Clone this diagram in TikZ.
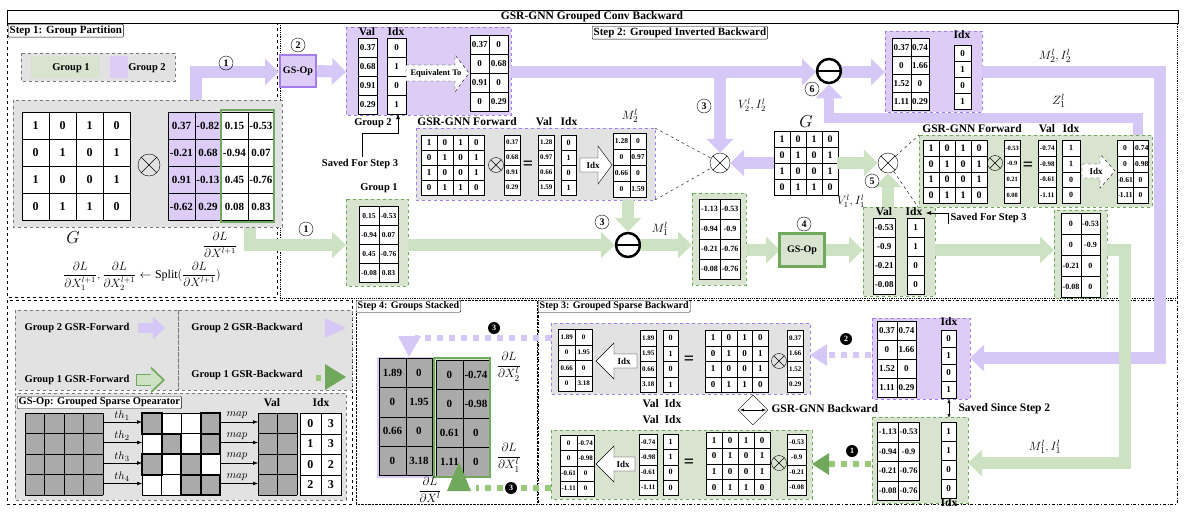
\documentclass[tikz,border=0pt]{standalone}
\usepackage{amsmath}
\usepackage{fontspec}
\setmainfont{Liberation Serif}
\usetikzlibrary{arrows.meta,shapes.geometric,calc}
\definecolor{pA}{RGB}{214,200,246}
\definecolor{pF}{RGB}{220,204,246}
\definecolor{pD}{RGB}{165,125,235}
\definecolor{gA}{RGB}{205,226,195}
\definecolor{gF}{RGB}{216,228,208}
\definecolor{gD}{RGB}{112,168,92}
\definecolor{gM}{RGB}{150,200,120}
\definecolor{gy}{RGB}{226,226,226}
\definecolor{gc}{RGB}{120,120,120}
\definecolor{gq}{RGB}{170,170,170}
\newcommand\fsz[1]{\fontsize{#1}{#1}\selectfont\bfseries}
\newcommand\tbl[7][white]{%
 \foreach \rr [count=\ii] in {#7} {\foreach \cc [count=\jj] in \rr {%
  \node[draw,fill=#1,minimum width=#4pt,minimum height=#5pt,inner sep=0,anchor=north west,font=#6]
   at ({#2+(\jj-1)*#4},{#3+(\ii-1)*#5}) {\cc};}}}
\newcommand\grd[6]{%
 \foreach \k in {0,...,#3} \draw ({#1+\k*#5},#2) -- ({#1+\k*#5},{#2+#4*#6});
 \foreach \k in {0,...,#4} \draw (#1,{#2+\k*#6}) -- ({#1+#3*#5},{#2+\k*#6});}
\newcommand\omin[3]{\node[circle,draw,line width=2.5pt,minimum size=24pt,inner sep=0] (#1) at (#2,#3) {};
 \draw[line width=2.5pt] (#1.west) -- (#1.east);}
\tikzset{
 pa/.style={line width=12pt,draw=pA,-{Triangle[length=14pt,width=26pt]}},
 ga/.style={line width=12pt,draw=gA,-{Triangle[length=14pt,width=26pt]}},
 cn/.style={circle,draw,inner sep=0.5pt,minimum size=14pt,font=\fsz{10}},
 bn/.style={circle,fill=black,text=white,minimum size=12pt,inner sep=0pt,font=\fsz{8}},
 lab/.style={draw,fill=white,rounded corners=1pt,font=\fsz{11},anchor=north west,inner sep=1.5pt},
 ot/.style={circle,draw,minimum size=20pt,inner sep=0,path picture={\draw (path picture bounding box.north west)--(path picture bounding box.south east) (path picture bounding box.north east)--(path picture bounding box.south west);}},
 ots/.style={ot,minimum size=15pt},
 txt/.style={font=\fsz{10.5}},
 hd/.style={font=\fsz{11.5}},
 sarrow/.style={draw,fill=white}
}
\begin{document}
\begin{tikzpicture}[x=1pt,y=-1pt]
\useasboundingbox (0,0) rectangle (1185,515);
% frames
\draw[thick] (7,10) rectangle (1178,23);
\node[font=\fsz{11.5}] (title) at (592,16.5) {GSR-GNN Grouped Conv Backward};
\draw[dashed,thick] (7,23) rectangle (277,297);
\draw[densely dotted,thick] (280,23) rectangle (1177,298);
\draw[dashed,thick] (7,300) rectangle (352,504);
\draw[densely dotted] (356,300) rectangle (537,504);
\draw[dash dot] (538,300) rectangle (1177,504);
\node[lab] (s1) at (8,24) {Step 1: Group Partition};
\node[lab] (s2) at (592,26) {Step 2: Grouped Inverted Backward};
\node[lab,font=\fsz{10}] (s4) at (356,300) {Step 4: Groups Stacked};
\node[lab,font=\fsz{10}] (s3) at (538,300) {Step 3: Grouped Sparse Backward};
% ---------- step 1
\fill[gy] (21,53) rectangle (175,81); \draw[dashed,thick,gc] (21,53) rectangle (175,81);
\fill[gF] (31,56) rectangle (100,78); \fill[pF] (110,56) rectangle (128,78);
\node[txt] (g1) at (71,68) {Group 1}; \node[txt] (g2) at (147,68) {Group 2};
\draw[pa] (196,100) -- (196,72) -- (279,72);
\draw[ga] (250,227) -- (250,245) -- (346,245);
\fill[gy] (13,100) rectangle (282,227); \draw[dashed,thick,gc] (13,100) rectangle (282,227);
\tbl{22}{112}{27}{27}{\fsz{12}}{{1,0,1,0},{0,1,0,1},{1,0,0,1},{0,1,1,0}}
\node[ot,minimum size=22pt] (x1) at (149,165) {};
\fill[pF] (168,112) rectangle (221,220); \fill[white] (221,112) rectangle (274,220);
\tbl[none]{168}{112}{26.5}{27}{\fsz{11}}{{0.37,-0.82,0.15,-0.53},{-0.21,0.68,-0.94,0.07},{0.91,-0.13,0.45,-0.76},{-0.62,0.29,0.08,0.83}}
\draw[gD,line width=2pt] (221,110) rectangle (274,222);
\node[font=\fontsize{16}{16}\selectfont] (Glab) at (73,238) {$G$};
\node[font=\fontsize{12}{12}\selectfont] (dl) at (220,245) {$\dfrac{\partial L}{\partial X^{l+1}}$};
\node[font=\fontsize{12}{12}\selectfont] (split) at (142,276) {$\dfrac{\partial L}{\partial X_1^{l+1}},\dfrac{\partial L}{\partial X_2^{l+1}}\leftarrow \mathrm{Split}(\dfrac{\partial L}{\partial X^{l+1}})$};
\node[cn] (c1a) at (226,63) {1};
\node[cn] (c1b) at (306,229) {1};
% ---------- step 2 top
\node[draw=pD,line width=2.5pt,fill=pF,minimum width=36pt,minimum height=32pt,inner sep=0,font=\fsz{10}] (gs2) at (298,71) {GS-Op};
\node[cn] (c2) at (298,45) {2};
\draw[pa] (gs2.east) -- (346,72);
\fill[pF] (346,27) rectangle (511,115); \draw[dashed,pD] (346,27) rectangle (511,115);
\node[hd] (vh) at (367,32) {Val}; \node[hd] (ih) at (396,32) {Idx};
\tbl{358}{38}{19}{19}{\fsz{9}}{0.37,0.68,0.91,0.29}
\tbl{387}{38}{19}{19}{\fsz{9}}{0,1,0,1}
\draw[dashed,fill=white] (406,65)--(455,65)--(455,55)--(469,73)--(455,92)--(455,81)--(406,81)--cycle;
\node[font=\fsz{8.5}] (eq) at (436,73) {Equivalent To};
\tbl{470}{35}{19}{19}{\fsz{9}}{{0.37,0},{0,0.68},{0.91,0},{0,0.29}}
\node[txt] (grp2) at (373,123) {Group 2};
\node[txt] (sv1) at (360,164) {Saved For Step 3};
\draw[-{Latex[length=5pt]}] (362,157) -- (362,133) -- (398,133) -- (398,114);
\draw[pa] (511,72) -- (816,72);
\omin{om1}{829}{71}
\draw[pa] (842,72) -- (885,72);
\node[ot] (x2) at (720,163) {};
\draw[pa] (720,72) -- (x2.north);
\node[cn] (c3a) at (704,106) {3};
\node[font=\fontsize{12}{12}\selectfont] (v2) at (752,105) {$V_2^l, I_2^l$};
\node[cn] (c6) at (812,89) {6};
\fill[pF] (885,31) rectangle (982,112); \draw[dashed,pD] (885,31) rectangle (982,112);
\tbl{892}{38}{18.5}{18}{\fsz{9}}{{0.37,0.74},{0,1.66},{1.52,0},{1.11,0.29}}
\node[hd] (ih2) at (962,35) {Idx};
\tbl{954}{45}{17}{16}{\fsz{9}}{0,1,0,1}
\node[font=\fontsize{13}{13}\selectfont] (m2) at (1055,56) {$M_2^l, I_2^l$};
\draw[pa] (982,72) -- (1160,72) -- (1160,358) -- (970,358);
\node[font=\fontsize{13}{13}\selectfont] (z1) at (1059,101) {$Z_1^l$};
\draw[pa,line width=10pt] (1138,137) -- (1138,118) -- (829,118) -- (om1.south);
% purple GSR forward
\fill[gy] (416,128) rectangle (655,200); \draw[dashed,pD,thick] (416,128) rectangle (655,200);
\node[hd] (gf1) at (467,122) {GSR-GNN Forward};
\node[hd] at (544,122) {Val}; \node[hd] at (569,122) {Idx};
\tbl{421}{135}{15.75}{15}{\fsz{9}}{{1,0,1,0},{0,1,0,1},{1,0,0,1},{0,1,1,0}}
\node[ots] (x3) at (496,165) {};
\tbl{504}{135}{16}{15}{\fsz{7}}{0.37,0.68,0.91,0.29}
\node[font=\fsz{18}] at (528,165) {=};
\tbl{538}{135}{16}{15}{\fsz{7}}{1.28,0.97,0.66,1.59}
\tbl{561}{135}{15}{15}{\fsz{8}}{0,1,0,1}
\draw[sarrow] (580,158)--(598,158)--(598,146)--(612,165)--(598,184)--(598,172)--(580,172)--cycle;
\node[font=\fsz{9}] at (593,165) {Idx};
\tbl{613}{133}{16.5}{16}{\fsz{7.5}}{{1.28,0},{0,0.97},{0.66,0},{0,1.59}}
\node[font=\fontsize{13}{13}\selectfont] (m2b) at (630,116) {$M_2^l$};
\draw[dashed] (655,128) -- (x2); \draw[dashed] (655,200) -- (x2);
% G center
\node[font=\fontsize{16}{16}\selectfont] (Gc) at (806,122) {$G$};
\tbl{774}{131}{16}{16}{\fsz{10}}{{1,0,1,0},{0,1,0,1},{1,0,0,1},{0,1,1,0}}
\draw[pa] (774,163) -- (x2.east);
\node[ot] (x4) at (888,163) {};
\draw[ga] (837,163) -- (x4.west);
% green GSR forward
\fill[gF] (919,135) rectangle (1152,207); \draw[dashed,gD,thick] (919,135) rectangle (1152,207);
\node[hd] (gf2) at (972,129) {GSR-GNN Forward};
\node[hd] at (1047,129) {Val}; \node[hd] at (1071,129) {Idx};
\tbl{923}{140}{16}{15.75}{\fsz{10}}{{1,0,1,0},{0,1,0,1},{1,0,0,1},{0,1,1,0}}
\node[ots] (x5) at (995,163) {};
\tbl{1004}{140}{16}{15.75}{\fsz{6.5}}{-0.53,-0.9,0.21,0.08}
\node[font=\fsz{18}] at (1028,166) {=};
\tbl{1038}{140}{18}{15.75}{\fsz{7}}{-0.74,-0.98,-0.61,-1.11}
\tbl{1062}{140}{18}{15.75}{\fsz{8}}{1,1,0,0}
\draw[dashed,fill=white] (1082,164)--(1100,164)--(1100,154)--(1115,171)--(1100,188)--(1100,178)--(1082,178)--cycle;
\node[font=\fsz{9}] at (1096,171) {Idx};
\tbl{1117}{140}{15.5}{15.75}{\fsz{7.5}}{{0,-0.74},{0,-0.98},{-0.61,0},{-1.11,0}}
\draw[dashed] (x4) -- (919,135); \draw[dashed] (x4) -- (918,207);
\draw[ga] (888,207) -- (x4.south);
\node[cn] (c5) at (872,181) {5};
\node[font=\fontsize{12}{12}\selectfont] (v1) at (851,201) {$V_1^l, I_1^l$};
% green lower chain
\fill[gF] (346,199) rectangle (408,286); \draw[dashed,gD,thick] (346,199) rectangle (408,286);
\node[txt] (grp1) at (379,188) {Group 1};
\tbl{359}{206}{19.5}{19}{\fsz{7.5}}{{0.15,-0.53},{-0.94,0.07},{0.45,-0.76},{-0.08,0.83}}
\omin{om2}{628}{245}
\draw[ga] (408,245) -- (om2.west);
\draw[ga] (628,200) -- (om2.north);
\node[cn] (c3b) at (602,222) {3};
\node[font=\fontsize{13}{13}\selectfont] (m1) at (660,229) {$M_1^l$};
\draw[ga] (om2.east) -- (692,245);
\fill[gF] (692,193) rectangle (746,285); \draw[dashed,gD,thick] (692,193) rectangle (746,285);
\tbl{699}{199}{20.5}{20}{\fsz{8}}{{-1.13,-0.53},{-0.94,-0.9},{-0.21,-0.76},{-0.08,-0.76}}
\draw[ga] (746,250) -- (780,250);
\node[draw=gD,line width=2.5pt,fill=gF,minimum width=45pt,minimum height=33pt,inner sep=0,font=\fsz{10}] (gs1) at (802,250) {GS-Op};
\node[cn] (c4) at (804,224) {4};
\draw[ga] (gs1.east) -- (863,250);
\fill[gF] (863,207) rectangle (935,296); \draw[dashed,gD,thick] (863,207) rectangle (935,296);
\node[hd] at (884,212) {Val}; \node[hd] (ih3) at (914,212) {Idx};
\tbl{873}{218}{22}{19}{\fsz{9}}{-0.53,-0.9,-0.21,-0.08}
\tbl{907}{218}{17}{19}{\fsz{9}}{1,1,0,0}
\node[txt,anchor=west] (sv2) at (947,218) {Saved For Step 3};
\draw[-{Latex[length=5pt]}] (948,224) -- (948,213) -- (926,213);
\draw[ga] (935,250) -- (1054,250);
\fill[gF] (1054,210) rectangle (1107,298); \draw[dashed,gD,thick] (1054,210) rectangle (1107,298);
\tbl{1061}{213}{19.5}{21}{\fsz{8}}{{0,-0.53},{0,-0.9},{-0.21,0},{-0.08,0}}
\draw[ga] (1107,250) -- (1125,250) -- (1125,463) -- (968,463);
% ---------- step 3
\fill[gy] (551,323) rectangle (810,394); \draw[dashed,pD,thick] (551,323) rectangle (810,394);
\tbl{558}{329}{17}{15.5}{\fsz{7}}{{1.89,0},{0,1.95},{0.66,0},{0,3.18}}
\draw[sarrow] (637,354)--(614,354)--(614,343)--(596,361)--(614,379)--(614,368)--(637,368)--cycle;
\node[font=\fsz{9}] at (624,361) {Idx};
\tbl{640}{330}{16}{15.5}{\fsz{7}}{1.89,1.95,0.66,3.18}
\tbl{663}{330}{15}{15.5}{\fsz{8}}{0,1,0,1}
\node[font=\fsz{18}] at (689,360) {=};
\tbl{705}{330}{15.75}{15.5}{\fsz{9}}{{1,0,1,0},{0,1,0,1},{1,0,0,1},{0,1,1,0}}
\node[ots] (x6) at (779,361) {};
\tbl{787}{330}{16}{15.5}{\fsz{7}}{0.37,1.66,1.52,0.29}
\node[hd] at (662,404) {Val\ \ Idx};
\node[hd] at (662,420) {Val\ \ Idx};
\node[diamond,draw,minimum width=30pt,minimum height=30pt,inner sep=0] (dm) at (753,410) {};
\draw[-{Latex[length=4pt]}] (753,410) -- (740,410); \draw[-{Latex[length=4pt]}] (753,410) -- (766,410);
\node[hd,anchor=west] (gb) at (768,409) {GSR-GNN Backward};
\fill[gF] (551,430) rectangle (812,499); \draw[dashed,gD,thick] (551,430) rectangle (812,499);
\tbl{560}{435}{17}{15.25}{\fsz{7}}{{0,-0.74},{0,-0.98},{-0.61,0},{-1.11,0}}
\draw[sarrow] (635,457)--(614,457)--(614,446)--(596,464)--(614,482)--(614,471)--(635,471)--cycle;
\node[font=\fsz{9}] at (623,464) {Idx};
\tbl{639}{434}{18}{15.25}{\fsz{7}}{-0.74,-0.98,-0.61,-1.11}
\tbl{663}{434}{15}{15.25}{\fsz{8}}{1,1,0,0}
\node[font=\fsz{18}] at (689,463) {=};
\tbl{706}{432}{16}{15.75}{\fsz{9}}{{1,0,1,0},{0,1,0,1},{1,0,0,1},{0,1,1,0}}
\node[ots] (x7) at (779,463) {};
\tbl{787}{434}{19}{15.25}{\fsz{7}}{-0.53,-0.9,-0.21,-0.08}
% purple saved table
\fill[pF] (872,318) rectangle (970,399); \draw[dashed,pD] (872,318) rectangle (970,399);
\tbl{877}{321}{19.5}{19}{\fsz{9}}{{0.37,0.74},{0,1.66},{1.52,0},{1.11,0.29}}
\node[hd] at (949,322) {Idx};
\tbl{941}{330}{15}{17}{\fsz{9}}{0,1,0,1}
\draw[pA,line width=6pt,dash pattern=on 6pt off 6pt] (871,355) -- (826,355);
\fill[pA] (827,344) -- (810,355) -- (827,366) -- cycle;
\node[bn] (b2) at (846,339) {2};
\draw[{Latex[length=4pt]}-{Latex[length=4pt]}] (949,399) -- (949,418);
\node[hd,anchor=west] (ss) at (955,409) {Saved Since Step 2};
\fill[gF] (872,417) rectangle (968,503); \draw[dashed,gD] (872,417) rectangle (968,503);
\tbl{877}{422}{21}{19.5}{\fsz{8.5}}{{-1.13,-0.53},{-0.94,-0.9},{-0.21,-0.76},{-0.08,-0.76}}
\tbl{941}{422}{15}{19}{\fsz{9}}{1,1,0,0}
\node[hd] at (949,503) {Idx};
\node[font=\fontsize{13}{13}\selectfont] (m1b) at (1045,447) {$M_1^l, I_1^l$};
\draw[gM,line width=6pt,dash pattern=on 6pt off 6pt] (871,464) -- (828,464);
\fill[gD] (829,453) -- (812,464) -- (829,475) -- cycle;
\node[bn] (b1) at (852,451) {1};
% ---------- step 4
\fill[pF] (377,357) rectangle (432,478);
\tbl[gq]{379}{358}{26.5}{29.25}{\fsz{11}}{{1.89,0},{0,1.95},{0.66,0},{0,3.18}}
\fill[gF] (434,358) rectangle (490,477);
\tbl[gq]{436}{360}{26.5}{29}{\fsz{11}}{{0,-0.74},{0,-0.98},{0.61,0},{1.11,0}}
\draw[gD,line width=2pt] (434,358) rectangle (490,477);
\draw[pA,line width=6pt,dash pattern=on 6pt off 6pt] (551,338) -- (415,338);
\fill[pA] (398,336) -- (421,336) -- (409,357) -- cycle;
\node[bn] (b3a) at (494,328) {3};
\draw[gM,line width=6pt,dash pattern=on 6pt off 6pt] (551,488) -- (476,488);
\fill[gD] (447,491) -- (471,491) -- (459,462) -- cycle;
\node[bn] (b3b) at (511,488) {3};
\node[font=\fontsize{13}{13}\selectfont] (d2) at (509,367) {$\dfrac{\partial L}{\partial X_2^l}$};
\node[font=\fontsize{13}{13}\selectfont] (d1) at (509,458) {$\dfrac{\partial L}{\partial X_1^l}$};
\node[font=\fontsize{13}{13}\selectfont] (d0) at (430,490) {$\dfrac{\partial L}{\partial X^l}$};
% ---------- legend
\fill[gy] (15,310) rectangle (352,390);
\draw[dashed,thick,gc] (15,310) rectangle (178,390); \draw[dashed,thick,gc] (178,310) rectangle (352,390);
\node[txt] (l1) at (77,328) {Group 2 GSR-Forward};
\draw[pA,line width=10pt,-{Triangle[length=12pt,width=22pt]}] (138,328) -- (165,328);
\node[txt] (l2) at (77,380) {Group 1 GSR-Forward};
\draw[gD,line width=12pt,-{Triangle[length=14pt,width=26pt]}] (136,380) -- (165,380);
\draw[gA,line width=10pt,-{Triangle[length=12pt,width=22pt]}] (137,380) -- (162.5,380);
\node[txt] (l3) at (247,328) {Group 2 GSR-Backward};
\fill[pA] (325,318) -- (346,328) -- (325,338) -- cycle;
\node[txt] (l4) at (247,375) {Group 1 GSR-Backward};
\fill[gM] (316,375) rectangle (321,381);
\fill[gD] (325,364) -- (346,377) -- (325,390) -- cycle;
% GS-Op legend
\fill[gy] (15,393) rectangle (346,500); \draw[dashed,thick,gc] (15,393) rectangle (346,500);
\node[lab,font=\fsz{10.5}] (gsl) at (17,396) {GS-Op: Grouped Sparse Opearator};
\fill[gq] (25,413) rectangle (103,495);
\grd{25}{413}{4}{4}{19.5}{20.5}
\fill[white] (142,413) rectangle (220,495);
\foreach \c/\r in {1/1,4/1,2/2,4/2,1/3,3/3,3/4,4/4}
  \fill[gq] ({142+(\c-1)*19.5},{413+(\r-1)*20.5}) rectangle ++(19.5,20.5);
\grd{142}{413}{4}{4}{19.5}{20.5}
\foreach \c/\r in {1/1,4/1,2/2,4/2,1/3,3/3,3/4,4/4}
  \draw[line width=2pt] ({142+(\c-1)*19.5},{413+(\r-1)*20.5}) rectangle ++(19.5,20.5);
\foreach \k in {1,2,3,4} {
  \draw[-{Latex[length=5pt]}] (103,{401.5+20.5*\k}) -- (142,{401.5+20.5*\k});
  \node[font=\fontsize{11}{11}\selectfont] at (122,{395+20.5*\k}) {$th_{\k}$};
  \draw[-{Latex[length=5pt]}] (220,{401.5+20.5*\k}) -- (258,{401.5+20.5*\k});
  \node[font=\fontsize{11}{11}\selectfont] at (237,{395+20.5*\k}) {$map$};
}
\fill[gq] (258,413) rectangle (297,495);
\grd{258}{413}{2}{4}{19.5}{20.5}
\node[hd] at (272,403) {Val}; \node[hd] at (321,403) {Idx};
\tbl{300}{413}{20.5}{20.5}{\fsz{12}}{{0,3},{1,3},{0,2},{2,3}}
\end{tikzpicture}
\end{document}
